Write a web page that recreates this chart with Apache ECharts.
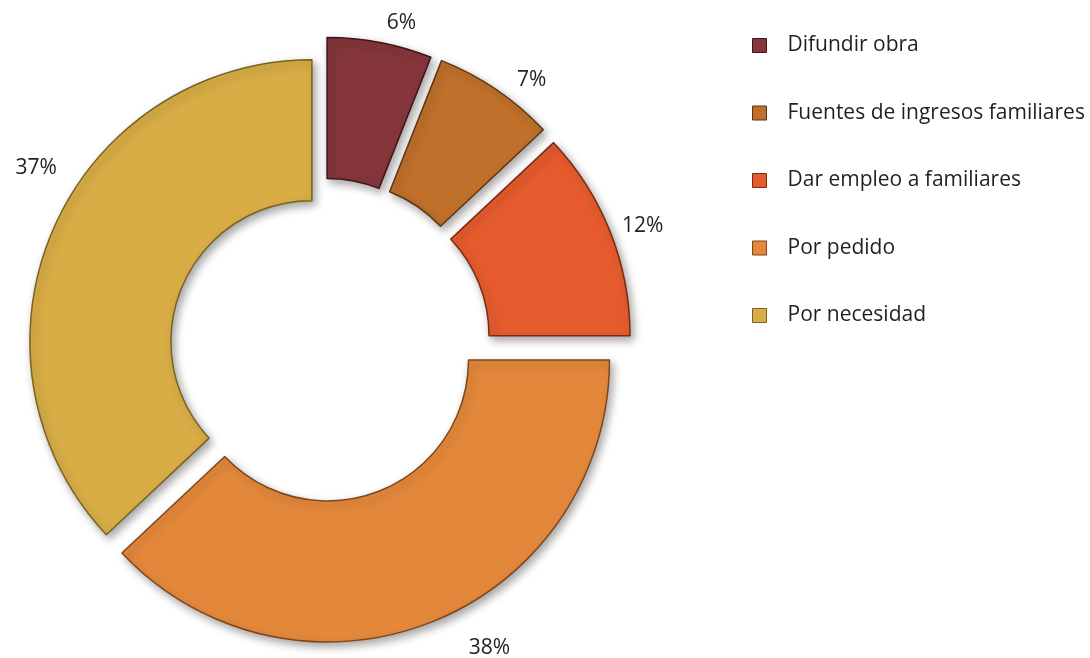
<!DOCTYPE html>
<html>
<head>
<meta charset="utf-8">
<script src="https://cdn.jsdelivr.net/npm/echarts@6/dist/echarts.min.js"></script>
<style>
  html, body { margin: 0; padding: 0; background: #ffffff; }
  #chart { width: 1090px; height: 658px; }
</style>
</head>
<body>
<div id="chart"></div>
<script>
// Reasons given, share of answers (%)
const categories = [
  'Difundir obra',
  'Fuentes de ingresos familiares',
  'Dar empleo a familiares',
  'Por pedido',
  'Por necesidad'
];
const shares = [6, 7, 12, 38, 37];

// Styling per slice
const sliceColors = ['#84363b', '#bf702b', '#e55b2e', '#e3883b', '#d8ad46'];
const edgeColors  = ['#3f1518', '#5e3510', '#7c2a12', '#80461a', '#7a6122'];
const explodeOffsets = [27, 28, 28, 15, 11];
// label guide lengths (the guide itself is hidden; it only places the text)
const labelLen1 = [20, 12, 16, 28, 155];
const labelLen2 = [3, 14, -3, 27, -146];

const FONT = 'Open Sans';
const chart = echarts.init(document.getElementById('chart'), null, { renderer: 'canvas' });

// One pie layer per slice so every slice can be pulled out by its own distance.
const series = categories.map((_, k) => ({
  type: 'pie',
  center: [322, 346],
  radius: [141, 282],
  startAngle: 90,
  clockwise: true,
  avoidLabelOverlap: false,
  selectedMode: 'single',
  selectedOffset: explodeOffsets[k],
  emphasis: { disabled: true },
  silent: true,
  z: 2,
  label: {
    show: true,
    position: 'outside',
    distanceToLabelLine: 0,
    formatter: '{c}%',
    fontFamily: FONT,
    fontSize: 21,
    color: '#231f20'
  },
  labelLine: { show: false, length: labelLen1[k], length2: labelLen2[k] },
  data: categories.map((name, i) => {
    const visible = i === k;
    return {
      name,
      value: shares[i],
      selected: visible,
      itemStyle: visible ? {
        color: sliceColors[i],
        borderColor: edgeColors[i],
        borderWidth: 1.5,
        shadowColor: 'rgba(0,0,0,0.35)',
        shadowBlur: 8,
        shadowOffsetX: 3,
        shadowOffsetY: 4
      } : {
        color: 'rgba(0,0,0,0)',
        borderWidth: 0,
        shadowBlur: 0,
        shadowColor: 'rgba(0,0,0,0)'
      },
      label: { show: visible }
    };
  })
}));

chart.setOption({
  backgroundColor: '#ffffff',
  animation: false,
  legend: {
    orient: 'vertical',
    left: 747,
    top: 30,
    itemWidth: 46,
    itemHeight: 14,
    itemGap: 46.5,
    icon: 'path://M0,0L10,0L10,10L0,10Z',
    selectedMode: false,
    textStyle: { fontFamily: FONT, fontSize: 21, color: '#231f20' },
    data: categories.map((name, i) => ({
      name,
      itemStyle: {
        color: sliceColors[i],
        borderColor: edgeColors[i],
        borderWidth: 1,
        shadowBlur: 0,
        shadowColor: 'rgba(0,0,0,0)'
      }
    }))
  },
  series
});
</script>
</body>
</html>
